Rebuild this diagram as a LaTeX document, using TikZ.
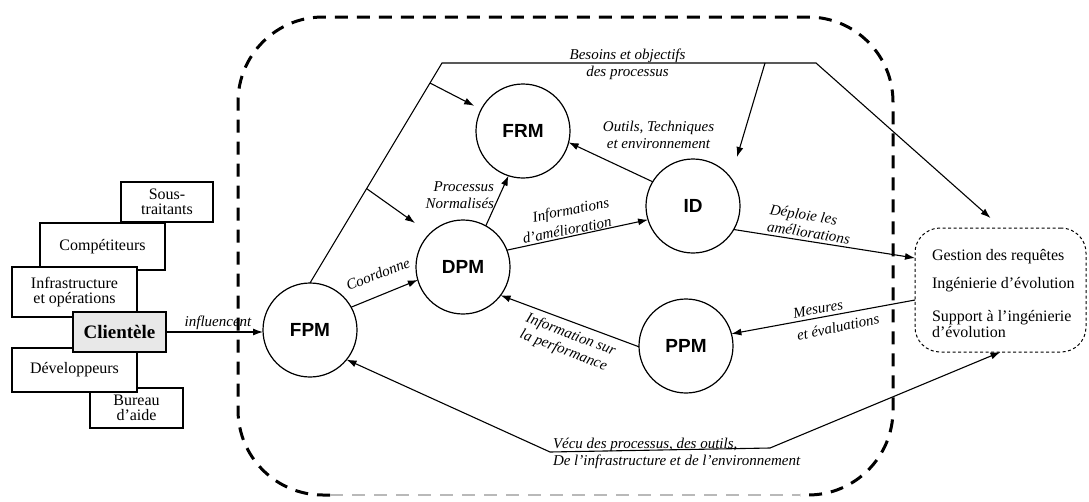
\documentclass[tikz,border=0pt]{standalone}
\usepackage{fontspec}
\setmainfont{Liberation Serif}
\newfontfamily\circfont{Liberation Sans}
\usetikzlibrary{arrows.meta,calc}

\begin{document}
\begin{tikzpicture}[x=1pt,y=-1pt,
  every node/.style={inner sep=0pt, outer sep=0pt},
  proc/.style={circle, draw, line width=1.2pt, minimum size=94pt,
    font=\circfont\bfseries\fontsize{19}{19}\selectfont},
  actor/.style={draw, fill=white, line width=1.3pt, align=center,
    font=\fontsize{16}{15}\selectfont},
  flow/.style={line width=1.1pt, -{Latex[length=10pt,width=7pt]}},
  twoway/.style={line width=1.1pt, {Latex[length=10pt,width=7pt]}-{Latex[length=10pt,width=7pt]}},
  lbl/.style={font=\itshape\fontsize{15}{17}\selectfont},
  item/.style={anchor=west, align=left, font=\fontsize{16}{16}\selectfont},
  bigframe/.style={line width=3pt, dash pattern=on 13pt off 9pt},
]
\useasboundingbox (0,0) rectangle (1089,501);

% organisation boundary
\draw[bigframe, rounded corners=85pt]
  (330,495) -- (238,495) -- (238,17) -- (893,17) -- (893,495) -- (800,495);
\draw[bigframe, gray!55, line width=2pt] (330,495) -- (800,495);

% stakeholders
\node[actor, minimum width=92pt, minimum height=40pt] (sous) at (167,202) {Sous-\\traitants};
\node[actor, minimum width=125pt, minimum height=47pt] (comp) at (102.5,246.5) {Compétiteurs};
\node[actor, minimum width=125pt, minimum height=50pt] (infra) at (74.5,292) {Infrastructure\\et opérations};
\node[actor, minimum width=93pt, minimum height=40pt] (bureau) at (136.5,408) {Bureau\\d'aide};
\node[actor, minimum width=125pt, minimum height=44pt] (dev) at (74.5,370) {Développeurs};
\node[actor, fill=gray!18, minimum width=93pt, minimum height=40pt,
  font=\bfseries\fontsize{19}{19}\selectfont] (client) at (119.5,332) {Clientèle};

% processes
\node[proc] (FPM) at (310,330) {FPM};
\node[proc] (DPM) at (463,267) {DPM};
\node[proc] (FRM) at (523,131) {FRM};
\node[proc] (ID)  at (693,206) {ID};
\node[proc] (PPM) at (686,346) {PPM};

% evolution activities
\node[draw, line width=1pt, dash pattern=on 3pt off 2.5pt, rounded corners=25pt,
  minimum width=171pt, minimum height=124pt] (gestion) at (1000.5,290) {};
\node[item] (g1) at (932,257) {Gestion des requêtes};
\node[item] (g2) at (932,285) {Ingénierie d'évolution};
\node[item] (g3) at (932,324) {Support à l'ingénierie\\d'évolution};

% helper points
\coordinate (b1) at (442,63);
\coordinate (b2) at (816,63);
\coordinate (br1) at ($(FPM.north)!0.909!(b1)$);
\coordinate (br2) at ($(FPM.north)!0.429!(b1)$);
\coordinate (br3) at (765,63);
\coordinate (tipD) at (415,223);
\coordinate (tipI) at (737,157);
\coordinate (tipG) at ($(gestion.north)+(-10,-10)$);
\coordinate (gD) at ($(gestion.west)+(0,-32)$);
\coordinate (gM) at ($(gestion.west)+(0,10)$);
\coordinate (v1) at (550,452);
\coordinate (v2) at (770,448);

% connectors
\draw[flow] (client.east) -- (client.east -| FPM.west);
\draw[flow] (FPM.north) -- (b1) -- (b2) -- (tipG);
\draw[flow, shorten >=8pt] (br1) -- (FRM);
\draw[flow] (br2) -- (tipD);
\draw[flow] (br3) -- (tipI);
\draw[flow] (ID.149) -- (FRM.346);
\draw[flow] (DPM.61) -- (FRM.252);
\draw[flow] (DPM.21) -- (ID.197);
\draw[flow] (FPM.29) -- (DPM.196);
\draw[flow] (PPM.181) -- (DPM.323);
\draw[flow] (gM) -- (PPM.15);
\draw[flow] (ID.330) -- (gD);
\draw[twoway] (gestion.south) -- (v2) -- (v1) -- (FPM.321);

% labels
\node[lbl] (l-infl) at (218,323) {influencent};
\node[lbl, align=center] (l-bes) at (627.5,64) {Besoins et objectifs\\des processus};
\node[lbl, align=center] (l-out) at (658.5,135) {Outils, Techniques\\et environnement};
\node[lbl, align=right, anchor=east] (l-pro) at (494,195) {Processus\\Normalisés};
\node[lbl, rotate=11] (l-inf1) at (571,211) {Informations};
\node[lbl, rotate=11] (l-inf2) at (567,230) {d'amélioration};
\node[lbl, rotate=21] (l-coord) at (378,274) {Coordonne};
\node[lbl, align=left, anchor=north west, rotate=-21] (l-perf) at (529,312) {Information sur\\la performance};
\node[lbl, align=left, anchor=north west, rotate=-9] (l-dep) at (771,204) {Déploie les\\améliorations};
\node[lbl, rotate=10] (l-mes1) at (818,309) {Mesures};
\node[lbl, rotate=12] (l-mes2) at (838,327) {et évaluations};
\node[lbl, align=left, anchor=west] (l-vec) at (553,453) {Vécu des processus, des outils,\\De l'infrastructure et de l'environnement};
\end{tikzpicture}
\end{document}
